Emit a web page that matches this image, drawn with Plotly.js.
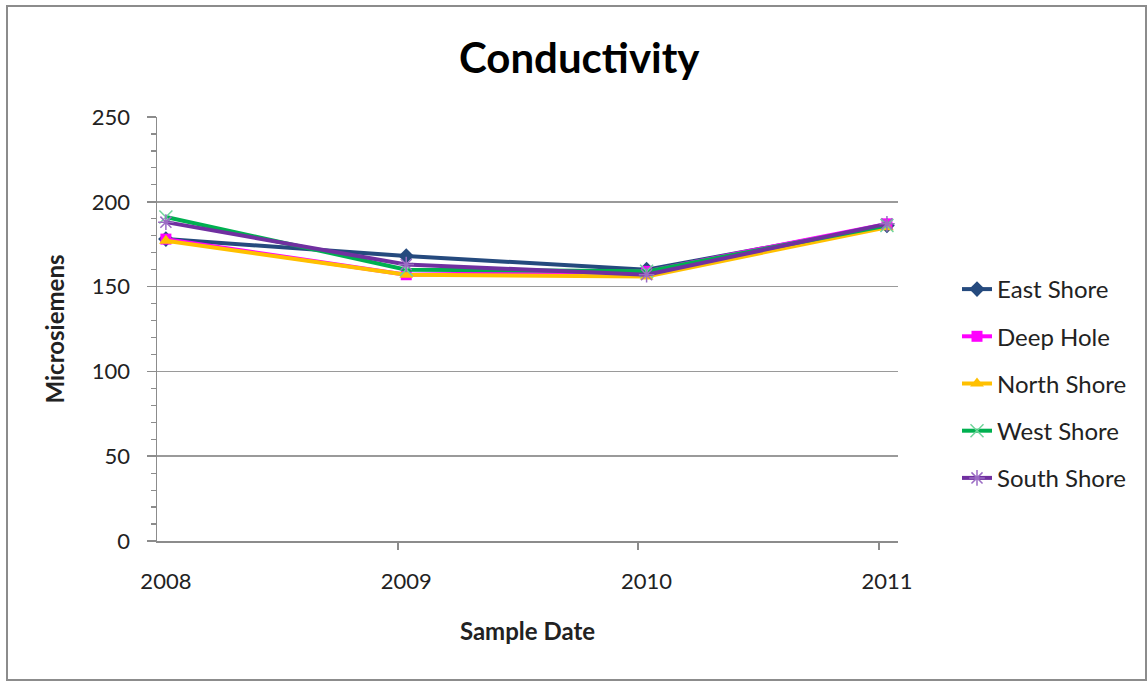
<!DOCTYPE html>
<html>
<head>
<meta charset="utf-8">
<script src="https://cdn.plot.ly/plotly-3.0.1.min.js"></script>
<style>html,body{margin:0;padding:0;background:#fff;} #chart{width:1147px;height:683px;}</style>
</head>
<body>
<div id="chart"></div>
<script>
const years = [2008, 2009, 2010, 2011];
const yearLabels = ["2008", "2009", "2010", "2011"];
const eastShore = [178, 168, 160, 186];
const deepHole = [178, 157, 159, 187];
const northShore = [177, 157, 156, 185];
const westShore = [191, 160, 159, 186];
const southShore = [188, 163, 157, 187];
const seriesNames = ["East Shore", "Deep Hole", "North Shore", "West Shore", "South Shore"];
const yTicks = [0, 50, 100, 150, 200, 250];

const L = 157, R = 898, T = 117, B = 541;
const W = 1147, H = 683;
const pw = R - L, ph = B - T;
const px = v => (v - L) / pw;
const py = v => (B - v) / ph;

function tr(name, y, color, sym, msize, mcolor, mline) {
  return {
    x: years, y: y, name: name, legendgroup: name,
    type: 'scatter', mode: 'lines+markers',
    line: {color: color, width: 4},
    marker: {symbol: sym, size: msize, color: mcolor, line: {color: mcolor, width: mline}},
    cliponaxis: false
  };
}

const data = [
  tr(seriesNames[0], eastShore, '#254A7E', 'diamond', 12, '#254A7E', 0),
  tr(seriesNames[1], deepHole, '#FF00FF', 'square', 11, '#FF00FF', 0),
  tr(seriesNames[2], northShore, '#FFC000', 'triangle-up', 12, '#FFC000', 0),
  tr(seriesNames[3], westShore, '#00B050', 'x-thin-open', 13, '#6FD49A', 1.5),
  tr(seriesNames[4], southShore, '#7030A0', 'asterisk-open', 13, '#9B6CC4', 1.5)
];

const font = 'Lato, "Open Sans", sans-serif';
const axisGray = '#8C8C8C';
const gridGray = '#9A9A9A';

const layout = {
  width: W, height: H,
  margin: {l: L, r: W - R, t: T, b: H - B},
  paper_bgcolor: '#fff', plot_bgcolor: '#fff',
  font: {family: font, color: '#222', size: 22},
  title: {text: 'Conductivity', font: {family: font, size: 42, color: '#000', weight: 'bold'},
          x: 0.505, xanchor: 'center', y: 1 - 58 / H, yanchor: 'middle'},
  showlegend: true,
  legend: {x: px(957), xanchor: 'left', y: py(267), yanchor: 'top',
           font: {family: font, size: 24, color: '#222'}, tracegroupgap: 13,
           bgcolor: 'rgba(0,0,0,0)', itemwidth: 30},
  xaxis: {
    type: 'linear', range: [2007.963, 2011.046],
    tickmode: 'array', tickvals: years, ticktext: yearLabels,
    ticks: '', showgrid: false, zeroline: false,
    showline: true, linecolor: axisGray, linewidth: 1.5,
    ticklabelstandoff: 20,
    tickfont: {family: font, size: 22, color: '#222'},
    minor: {tickmode: 'array', tickvals: [2008.965, 2009.965, 2010.966], ticks: 'outside', ticklen: 7, tickcolor: axisGray, tickwidth: 1.5, showgrid: false},
    title: {text: 'Sample Date', font: {family: font, size: 24, color: '#222', weight: 'bold'}, standoff: 30},
    fixedrange: true
  },
  yaxis: {
    range: [0, 250], tickmode: 'array', tickvals: yTicks,
    ticks: 'outside', ticklen: 9, tickcolor: axisGray, tickwidth: 1.5,
    showgrid: true, gridcolor: gridGray, gridwidth: 1.5, zeroline: false,
    showline: true, linecolor: axisGray, linewidth: 1.5,
    ticklabelstandoff: 12,
    tickfont: {family: font, size: 22, color: '#222'},
    minor: {dtick: 10, ticks: 'outside', ticklen: 5, tickcolor: axisGray, tickwidth: 1.2, showgrid: false},
    title: {text: 'Microsiemens', font: {family: font, size: 24, color: '#222', weight: 'bold'}, standoff: 20},
    fixedrange: true
  },
  shapes: [{type: 'rect', xref: 'paper', yref: 'paper',
            x0: px(7), x1: px(1146), y0: py(680), y1: py(6),
            line: {color: '#8C8C8C', width: 2}, fillcolor: 'rgba(0,0,0,0)', layer: 'below'}]
};

Plotly.newPlot('chart', data, layout, {displayModeBar: false, staticPlot: true});
</script>
</body>
</html>
